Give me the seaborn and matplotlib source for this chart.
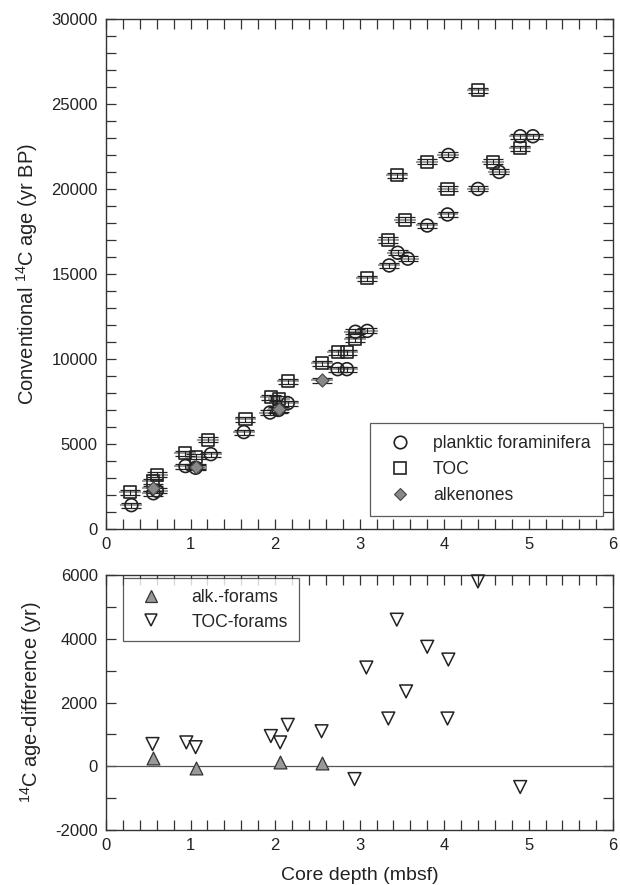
import numpy as np
import pandas as pd
import matplotlib
matplotlib.use("Agg")
import matplotlib.pyplot as plt
import seaborn as sns
from matplotlib.ticker import MultipleLocator
from matplotlib.lines import Line2D

# planktic foraminifera
foram_depth = [0.30, 0.56, 0.60, 0.94, 1.06, 1.24, 1.63, 1.94, 2.04, 2.15, 2.74, 2.85,
               2.95, 3.09, 3.35, 3.45, 3.57, 3.80, 4.04, 4.05, 4.40, 4.65, 4.90, 5.05]
foram_age = [1400, 2100, 2250, 3700, 3600, 4400, 5700, 6850, 7000, 7400, 9400, 9400,
             11600, 11650, 15500, 16250, 15900, 17850, 18500, 22000, 20000, 21000, 23100, 23100]

# total organic carbon
toc_depth = [0.28, 0.56, 0.60, 0.94, 1.06, 1.21, 1.65, 1.95, 2.05, 2.15, 2.55, 2.74,
             2.85, 2.95, 3.09, 3.34, 3.44, 3.54, 3.80, 4.04, 4.40, 4.58, 4.90]
toc_age = [2150, 2800, 3200, 4450, 4250, 5250, 6450, 7750, 7650, 8700, 9750, 10400,
           10400, 11150, 14750, 17000, 20800, 18200, 21600, 20000, 25800, 21600, 22400]

# alkenones
alk_depth = [0.56, 1.06, 2.05, 2.55]
alk_age = [2400, 3650, 7050, 8750]

# age differences
alkf_depth = [0.55, 1.06, 2.06, 2.55]
alkf_diff = [270, -50, 150, 100]
tocf_depth = [0.55, 0.95, 1.06, 1.95, 2.06, 2.15, 2.55, 2.94, 3.08, 3.34, 3.44, 3.55,
              3.80, 4.05, 4.04, 4.40, 4.90]
tocf_diff = [700, 750, 600, 950, 750, 1300, 1100, -400, 3100, 1500, 4600, 2350,
             3750, 3350, 1500, 5800, -650]

age_err = 150
depth_err = 0.13

sns.set_style("ticks")
plt.rcParams["font.family"] = ["Liberation Sans", "DejaVu Sans"]
plt.rcParams["mathtext.fontset"] = "custom"
plt.rcParams["mathtext.rm"] = "Liberation Sans"
plt.rcParams["axes.edgecolor"] = "#333333"
plt.rcParams["axes.linewidth"] = 1.0
plt.rcParams["axes.unicode_minus"] = False

fig = plt.figure(figsize=(6.2, 8.85), dpi=100)
ax1 = fig.add_axes([0.171, 0.4023, 0.818, 0.5763])
ax2 = fig.add_axes([0.171, 0.0621, 0.818, 0.2881])

# error bars first
for d, a in [(foram_depth, foram_age), (toc_depth, toc_age), (alk_depth, alk_age)]:
    ax1.errorbar(d, a, xerr=depth_err, fmt="none", ecolor="#8a8a8a", elinewidth=1.2, zorder=1)
    ax1.errorbar(d, a, yerr=age_err, fmt="none", ecolor="#222222", elinewidth=0.8,
                 capsize=7, capthick=0.9, zorder=2)

df_f = pd.DataFrame({"depth": foram_depth, "age": foram_age})
df_t = pd.DataFrame({"depth": toc_depth, "age": toc_age})
df_a = pd.DataFrame({"depth": alk_depth, "age": alk_age})

sns.scatterplot(data=df_f, x="depth", y="age", ax=ax1, marker="o", s=85,
                facecolor="none", edgecolor="#222222", linewidth=1.2, zorder=3)
sns.scatterplot(data=df_t, x="depth", y="age", ax=ax1, marker="s", s=75,
                facecolor="none", edgecolor="#222222", linewidth=1.2, zorder=3)
sns.scatterplot(data=df_a, x="depth", y="age", ax=ax1, marker="D", s=45,
                color="#888888", edgecolor="#444444", linewidth=0.8, zorder=4)

ax1.set_xlim(0, 6)
ax1.set_ylim(0, 30000)
ax1.xaxis.set_major_locator(MultipleLocator(1))
ax1.xaxis.set_minor_locator(MultipleLocator(0.2))
ax1.yaxis.set_major_locator(MultipleLocator(5000))
ax1.yaxis.set_minor_locator(MultipleLocator(1000))
ax1.set_xlabel("")
ax1.set_ylabel(r"Conventional $^{\mathregular{14}}$C age (yr BP)", fontsize=14.5,
               color="#222222", labelpad=8)

h1 = [Line2D([], [], marker="o", ls="none", mfc="none", mec="#222222", ms=9, mew=1.2),
      Line2D([], [], marker="s", ls="none", mfc="none", mec="#222222", ms=8.5, mew=1.2),
      Line2D([], [], marker="D", ls="none", mfc="#888888", mec="#444444", ms=6.5, mew=0.8)]
leg1 = ax1.legend(h1, ["planktic foraminifera", "TOC", "alkenones"], loc="lower right",
                  bbox_to_anchor=(0.98, 0.025), borderaxespad=0, fontsize=12.7,
                  frameon=True, fancybox=False, edgecolor="#333333", borderpad=0.7,
                  labelspacing=0.5, handletextpad=0.9)
leg1.get_frame().set_linewidth(0.9)

# lower panel
ax2.axhline(0, color="#555555", lw=0.9, zorder=1)
df_af = pd.DataFrame({"depth": alkf_depth, "diff": alkf_diff})
df_tf = pd.DataFrame({"depth": tocf_depth, "diff": tocf_diff})
sns.scatterplot(data=df_af, x="depth", y="diff", ax=ax2, marker="^", s=85,
                color="#999999", edgecolor="#333333", linewidth=0.9, zorder=3)
sns.scatterplot(data=df_tf, x="depth", y="diff", ax=ax2, marker="v", s=85,
                facecolor="none", edgecolor="#222222", linewidth=1.1, zorder=3,
                clip_on=False)

ax2.set_xlim(0, 6)
ax2.set_ylim(-2000, 6000)
ax2.xaxis.set_major_locator(MultipleLocator(1))
ax2.xaxis.set_minor_locator(MultipleLocator(0.2))
ax2.yaxis.set_major_locator(MultipleLocator(2000))
ax2.yaxis.set_minor_locator(MultipleLocator(1000))
ax2.set_xlabel("Core depth (mbsf)", fontsize=14, color="#222222", labelpad=10)
ax2.set_ylabel(r"$^{\mathregular{14}}$C age-difference (yr)", fontsize=14.5,
               color="#222222", labelpad=8)

h2 = [Line2D([], [], marker="^", ls="none", mfc="#999999", mec="#333333", ms=9, mew=0.9),
      Line2D([], [], marker="v", ls="none", mfc="none", mec="#222222", ms=9, mew=1.1)]
leg2 = ax2.legend(h2, ["alk.-forams", "TOC-forams"], loc="upper left",
                  bbox_to_anchor=(0.033, 0.988), borderaxespad=0, fontsize=12.7,
                  frameon=True, fancybox=False, edgecolor="#333333", borderpad=0.6,
                  labelspacing=0.45, handletextpad=1.3)
leg2.get_frame().set_linewidth(0.9)

for ax in (ax1, ax2):
    ax.tick_params(which="both", direction="in", top=True, right=True, length=7,
                   width=0.9, color="#333333", labelsize=12, labelcolor="#222222", pad=6)

fig.savefig("out.png", dpi=100)
